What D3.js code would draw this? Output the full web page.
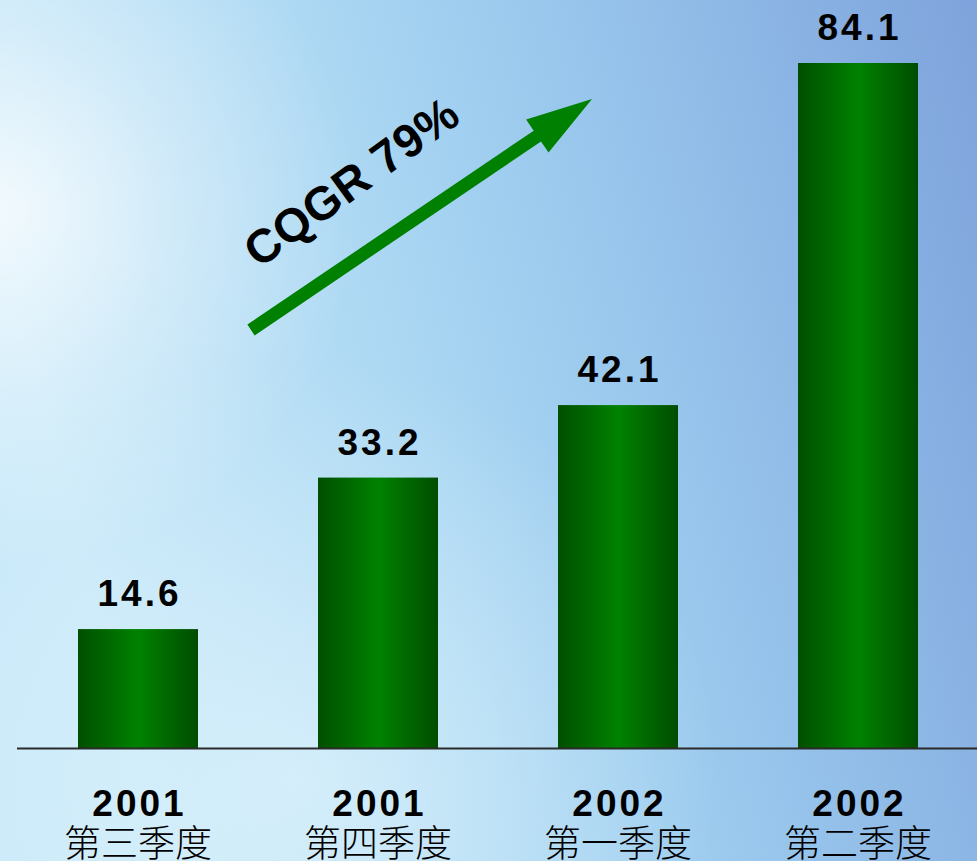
<!DOCTYPE html>
<html><head><meta charset="utf-8">
<script src="https://cdn.jsdelivr.net/npm/d3@7"></script>
<style>html,body{margin:0;padding:0;overflow:hidden;background:#c8e8f8}</style>
</head><body>
<script>
const years = ["2001", "2001", "2002", "2002"];
const quarters = ["第三季度", "第四季度", "第一季度", "第二季度"];
const values = [14.6, 33.2, 42.1, 84.1];
const valueLabels = ["14.6", "33.2", "42.1", "84.1"];
const growthLabel = "CQGR 79%";

const W = 977, H = 861;
const svg = d3.select("body").append("svg").attr("width", W).attr("height", H);
const defs = svg.append("defs");

const sky = defs.append("linearGradient").attr("id", "sky")
  .attr("gradientUnits", "userSpaceOnUse").attr("x1", 0).attr("y1", 250).attr("x2", 977).attr("y2", 0);
[[0, "#c9e9f9"], [0.35, "#acd8f3"], [0.55, "#9bcaee"], [1, "#7ea3dc"]]
  .forEach(([o, c]) => sky.append("stop").attr("offset", o).attr("stop-color", c));
const glow = defs.append("radialGradient").attr("id", "glow")
  .attr("gradientUnits", "userSpaceOnUse").attr("cx", 0).attr("cy", 210).attr("r", 360);
[[0, "#ffffff", 0.75], [0.5, "#ffffff", 0.3], [1, "#ffffff", 0]]
  .forEach(([o, c, a]) => glow.append("stop").attr("offset", o).attr("stop-color", c).attr("stop-opacity", a));
const glow2 = defs.append("radialGradient").attr("id", "glow2")
  .attr("gradientUnits", "userSpaceOnUse").attr("cx", 300).attr("cy", 780).attr("r", 420);
[[0, "#e4f6fd", 0.6], [1, "#e4f6fd", 0]]
  .forEach(([o, c, a]) => glow2.append("stop").attr("offset", o).attr("stop-color", c).attr("stop-opacity", a));

const barGrad = defs.append("linearGradient").attr("id", "bar").attr("x1", 0).attr("x2", 1).attr("y1", 0).attr("y2", 0);
[[0, "#004f00"], [0.5, "#008200"], [1, "#004d00"]]
  .forEach(([o, c]) => barGrad.append("stop").attr("offset", o).attr("stop-color", c));

svg.append("rect").attr("width", W).attr("height", H).attr("fill", "url(#sky)");
svg.append("rect").attr("width", W).attr("height", H).attr("fill", "url(#glow2)");
svg.append("rect").attr("width", W).attr("height", H).attr("fill", "url(#glow)");

const baseY = 748;
const x = d3.scaleBand().domain(d3.range(values.length)).range([18, 978]).paddingInner(0.5).paddingOuter(0.25);
const y = d3.scaleLinear().domain([0, 84.1]).range([baseY, 63]);

svg.selectAll("rect.bar").data(values).join("rect").attr("class", "bar")
  .attr("x", (d, i) => x(i)).attr("width", x.bandwidth())
  .attr("y", d => y(d)).attr("height", d => baseY - y(d))
  .attr("fill", "url(#bar)");

svg.append("line").attr("x1", 17).attr("x2", W).attr("y1", baseY + 0.5).attr("y2", baseY + 0.5)
  .attr("stroke", "#2a2a2a").attr("stroke-width", 2);

const font = "'Liberation Sans', Arial, sans-serif";
svg.selectAll("text.val").data(values).join("text").attr("class", "val")
  .attr("x", (d, i) => x(i) + x.bandwidth() / 2 + 1.5).attr("y", d => y(d) - 23)
  .attr("text-anchor", "middle").attr("font-family", font).attr("font-weight", "bold")
  .attr("font-size", 37).attr("letter-spacing", 3).attr("fill", "#000")
  .text((d, i) => valueLabels[i]);

svg.selectAll("text.yr").data(years).join("text").attr("class", "yr")
  .attr("x", (d, i) => x(i) + x.bandwidth() / 2 + 1.5).attr("y", 816)
  .attr("text-anchor", "middle").attr("font-family", font).attr("font-weight", "bold")
  .attr("font-size", 37).attr("letter-spacing", 3).attr("fill", "#000").text(d => d);

svg.selectAll("text.q").data(quarters).join("text").attr("class", "q")
  .attr("x", (d, i) => x(i) + x.bandwidth() / 2).attr("y", 857)
  .attr("text-anchor", "middle").attr("font-family", "'Noto Sans CJK SC', sans-serif")
  .attr("font-weight", 300).attr("font-size", 37).attr("fill", "#000").text(d => d);

// growth arrow
const p0 = [251, 330], p1 = [592, 99];
const dx = p1[0] - p0[0], dy = p1[1] - p0[1], len = Math.hypot(dx, dy);
const u = [dx / len, dy / len], n = [-u[1], u[0]];
const sw = 6.5, hw = 20, hl = 66;
const hb = [p1[0] - u[0] * hl, p1[1] - u[1] * hl];
const pt = (p, k) => [p[0] + n[0] * k, p[1] + n[1] * k];
const poly = [pt(p0, sw), pt(hb, sw), pt(hb, hw), p1, pt(hb, -hw), pt(hb, -sw), pt(p0, -sw)];
svg.append("path").attr("d", d3.line()(poly) + "Z").attr("fill", "#008000");

svg.append("text").attr("transform", "translate(259,269) rotate(-36)")
  .attr("font-family", font).attr("font-weight", "bold").attr("font-size", 47)
  .attr("letter-spacing", 0.5).attr("fill", "#000").text(growthLabel);
</script>
</body></html>
